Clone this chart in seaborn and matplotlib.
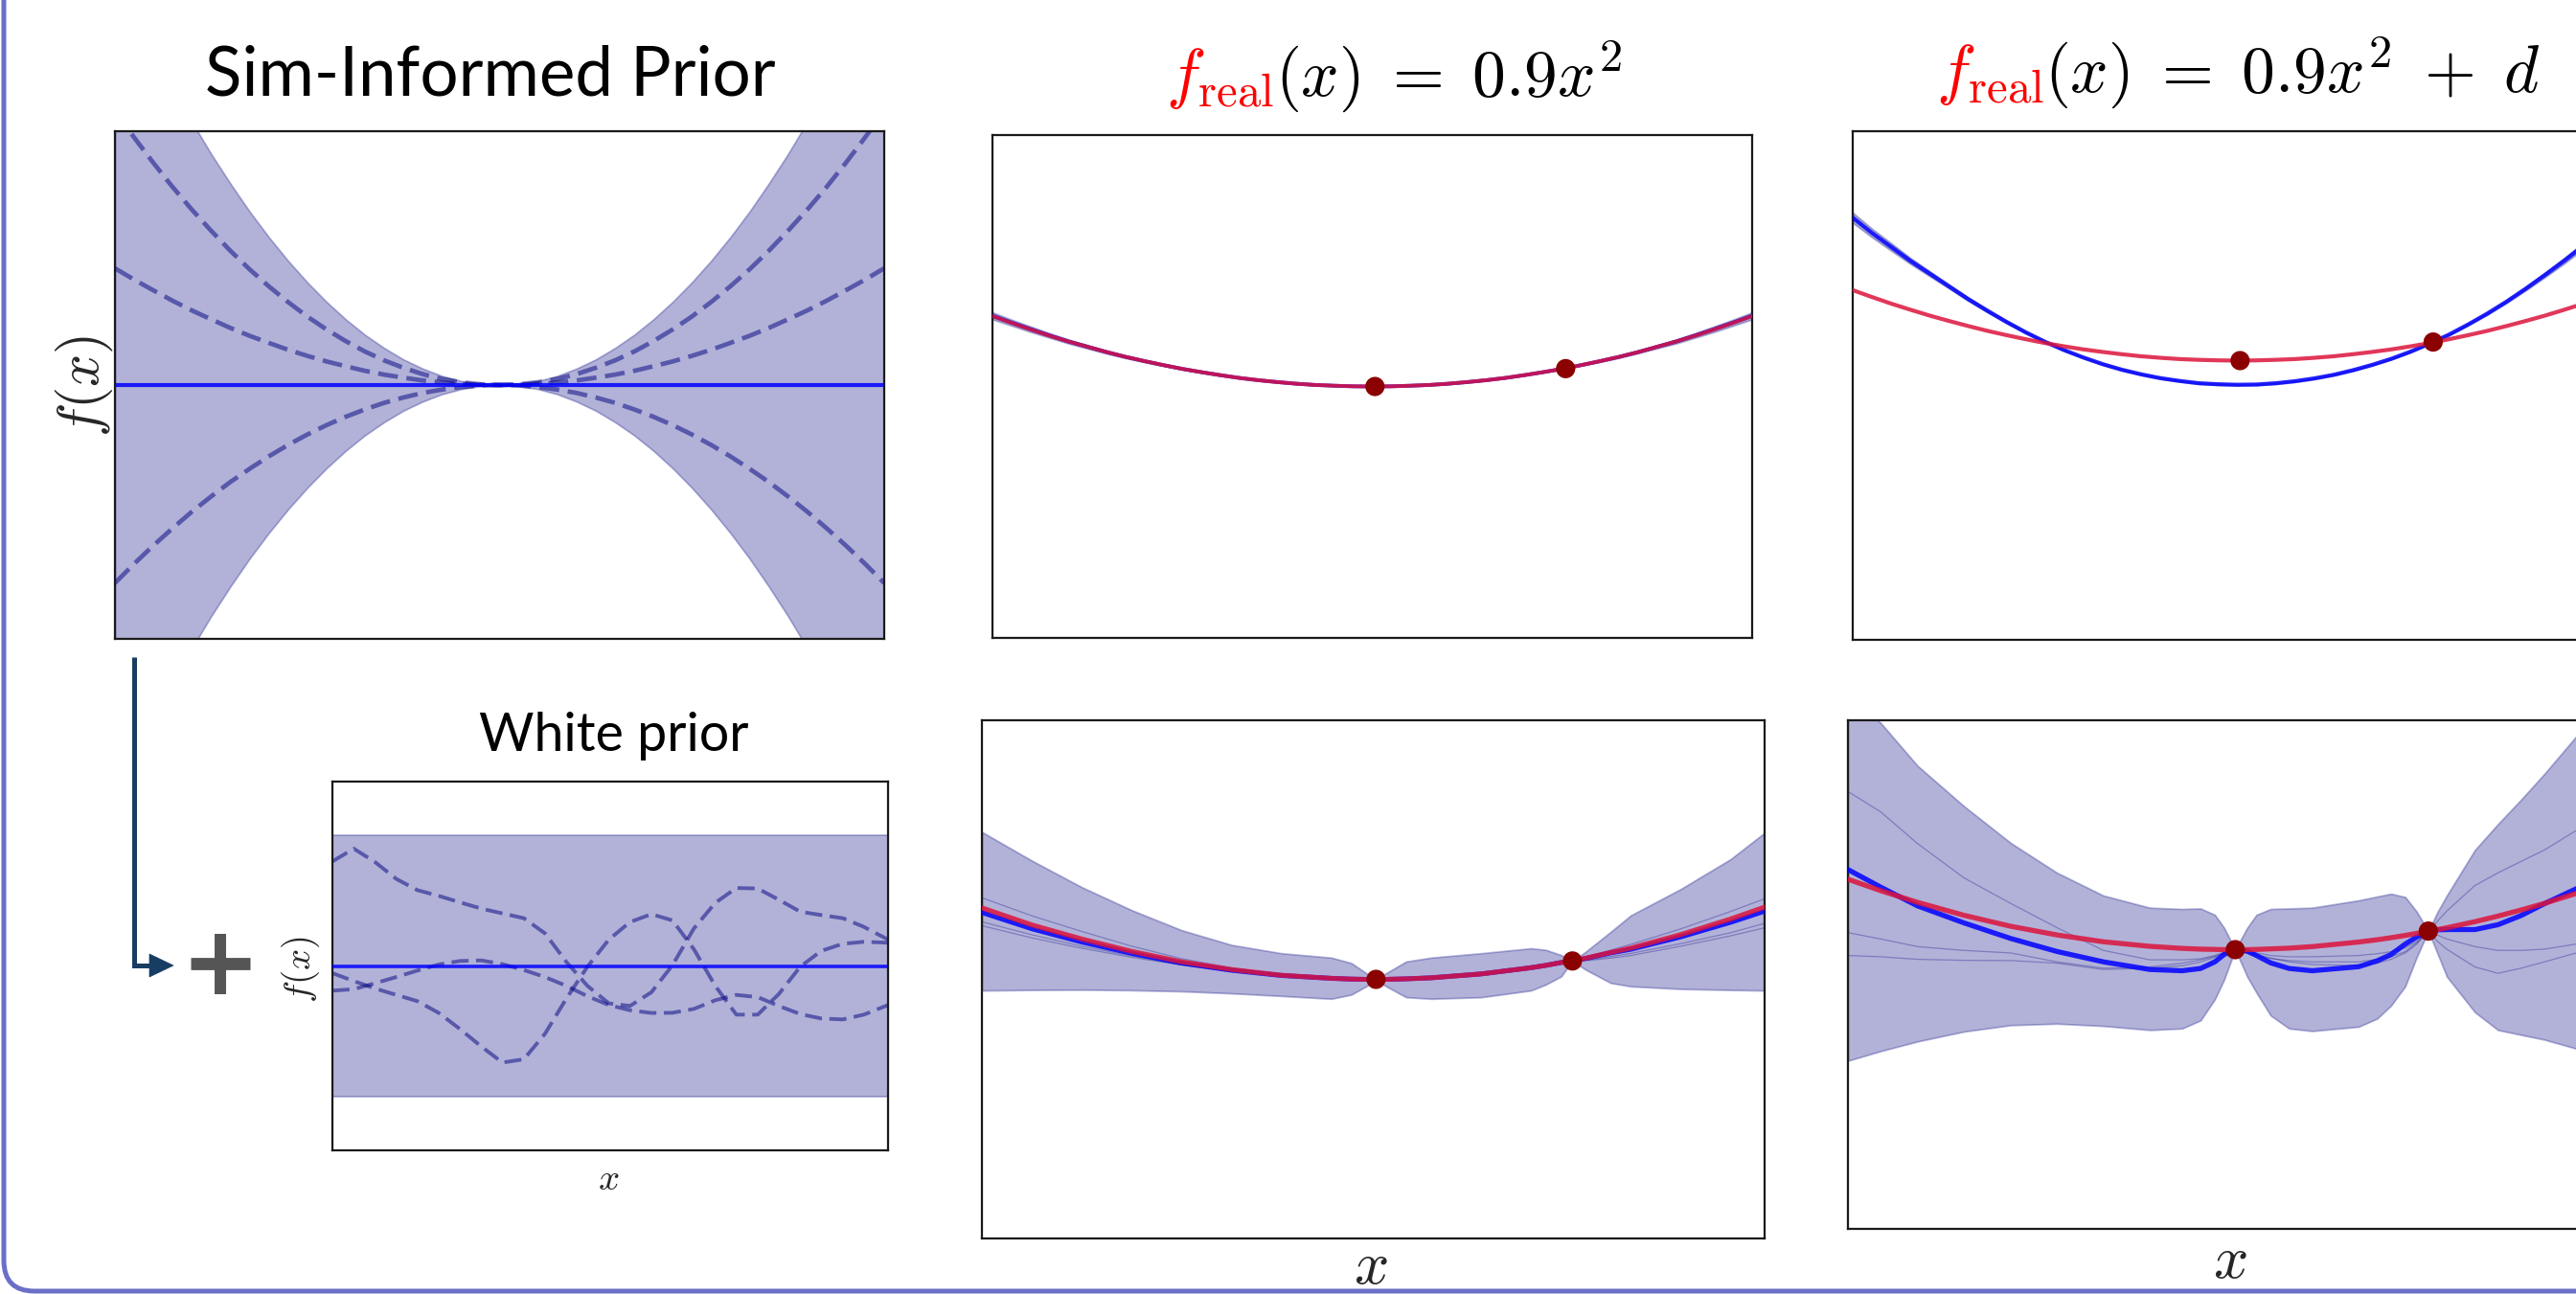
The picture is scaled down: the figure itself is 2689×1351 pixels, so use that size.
import numpy as np
import pandas as pd
import matplotlib
matplotlib.use("Agg")
import matplotlib.pyplot as plt
import seaborn as sns
from matplotlib.patches import Polygon, PathPatch, Rectangle
from matplotlib.path import Path
from matplotlib.lines import Line2D
from matplotlib.offsetbox import TextArea, HPacker, AnnotationBbox
from matplotlib.transforms import IdentityTransform

# ---------------- data (normalised panel units, x and y in [-1, 1]) ----------------
grid41 = [-1.0, -0.95, -0.9, -0.85, -0.8, -0.75, -0.7, -0.65, -0.6, -0.55, -0.5,
          -0.45, -0.4, -0.35, -0.3, -0.25, -0.2, -0.15, -0.1, -0.05, 0.0,
          0.05, 0.1, 0.15, 0.2, 0.25, 0.3, 0.35, 0.4, 0.45, 0.5,
          0.55, 0.6, 0.65, 0.7, 0.75, 0.8, 0.85, 0.9, 0.95, 1.0]

# Sim-informed prior panel
sim_x = grid41
sim_band = [1.62, 1.462, 1.312, 1.170, 1.037, 0.911, 0.794, 0.684, 0.583, 0.490, 0.405,
            0.328, 0.259, 0.198, 0.146, 0.101, 0.065, 0.036, 0.016, 0.004, 0.0,
            0.004, 0.016, 0.036, 0.065, 0.101, 0.146, 0.198, 0.259, 0.328, 0.405,
            0.490, 0.583, 0.684, 0.794, 0.911, 1.037, 1.170, 1.312, 1.462, 1.62]
sim_mean = [0.0] * 41
sim_s1 = [1.08, 0.975, 0.875, 0.780, 0.691, 0.608, 0.529, 0.456, 0.389, 0.327, 0.27,
          0.219, 0.173, 0.132, 0.097, 0.068, 0.043, 0.024, 0.011, 0.003, 0.0,
          0.003, 0.011, 0.024, 0.043, 0.068, 0.097, 0.132, 0.173, 0.219, 0.27,
          0.327, 0.389, 0.456, 0.529, 0.608, 0.691, 0.780, 0.875, 0.975, 1.08]
sim_s2 = [0.46, 0.415, 0.373, 0.332, 0.294, 0.259, 0.225, 0.194, 0.166, 0.139, 0.115,
          0.093, 0.074, 0.056, 0.041, 0.029, 0.018, 0.010, 0.005, 0.001, 0.0,
          0.001, 0.005, 0.010, 0.018, 0.029, 0.041, 0.056, 0.074, 0.093, 0.115,
          0.139, 0.166, 0.194, 0.225, 0.259, 0.294, 0.332, 0.373, 0.415, 0.46]
sim_s3 = [-0.78, -0.704, -0.632, -0.564, -0.499, -0.439, -0.382, -0.330, -0.281, -0.236, -0.195,
          -0.158, -0.125, -0.096, -0.070, -0.049, -0.031, -0.018, -0.008, -0.002, 0.0,
          -0.002, -0.008, -0.018, -0.031, -0.049, -0.070, -0.096, -0.125, -0.158, -0.195,
          -0.236, -0.281, -0.330, -0.382, -0.439, -0.499, -0.564, -0.632, -0.704, -0.78]

# White prior panel
white_x = [-1.0, -0.923, -0.847, -0.770, -0.694, -0.617, -0.541, -0.464, -0.388,
           -0.311, -0.235, -0.158, -0.082, -0.005, 0.071, 0.148, 0.224, 0.301,
           0.378, 0.454, 0.531, 0.607, 0.684, 0.760, 0.837, 0.913, 1.0]
white_band = 0.71
white_mean = [0.0] * 27
white_s1 = [0.567, 0.636, 0.564, 0.472, 0.411, 0.380, 0.345, 0.311, 0.285, 0.259,
            0.177, 0.022, -0.108, -0.203, -0.217, -0.143, 0.004, 0.203, 0.342,
            0.423, 0.420, 0.359, 0.294, 0.276, 0.259, 0.212, 0.143]
white_s2 = [-0.134, -0.126, -0.094, -0.060, -0.025, 0.008, 0.027, 0.030, 0.010,
            -0.022, -0.060, -0.108, -0.164, -0.212, -0.240, -0.255, -0.254, -0.233,
            -0.186, -0.157, -0.169, -0.217, -0.261, -0.285, -0.290, -0.264, -0.212]
white_s3 = [-0.039, -0.082, -0.122, -0.157, -0.191, -0.255, -0.342, -0.437, -0.524,
            -0.506, -0.368, -0.177, -0.004, 0.143, 0.238, 0.281, 0.247, 0.091,
            -0.108, -0.264, -0.264, -0.152, -0.004, 0.082, 0.120, 0.131, 0.126]

# observations
obs_x = [0.007, 0.509]
obs_y_a = [0.0, 0.071]      # f_real = 0.9 x^2
obs_y_b = [0.098, 0.171]    # f_real = 0.9 x^2 + d

# top row: sim-informed posterior
top_x = grid41
real_a_top = [0.28, 0.253, 0.227, 0.202, 0.179, 0.158, 0.137, 0.118, 0.101, 0.085, 0.07,
              0.057, 0.045, 0.034, 0.025, 0.0175, 0.011, 0.006, 0.003, 0.0007, 0.0,
              0.0007, 0.003, 0.006, 0.011, 0.0175, 0.025, 0.034, 0.045, 0.057, 0.07,
              0.085, 0.101, 0.118, 0.137, 0.158, 0.179, 0.202, 0.227, 0.253, 0.28]
post_a_top = [0.281, 0.254, 0.228, 0.203, 0.179, 0.158, 0.137, 0.118, 0.101, 0.085, 0.07,
              0.057, 0.045, 0.034, 0.025, 0.0175, 0.011, 0.006, 0.003, 0.0007, 0.0,
              0.0007, 0.003, 0.006, 0.011, 0.0175, 0.025, 0.034, 0.045, 0.057, 0.07,
              0.085, 0.101, 0.118, 0.137, 0.158, 0.179, 0.203, 0.228, 0.254, 0.281]
hw_a_top = [0.014, 0.012, 0.011, 0.009, 0.008, 0.007, 0.006, 0.005, 0.004, 0.003, 0.003,
            0.002, 0.002, 0.001, 0.001, 0.001, 0.001, 0.0, 0.0, 0.0, 0.0,
            0.0, 0.0, 0.0, 0.0, 0.0, 0.001, 0.001, 0.001, 0.001, 0.001,
            0.002, 0.003, 0.004, 0.005, 0.006, 0.008, 0.009, 0.011, 0.012, 0.014]
real_b_top = [0.375, 0.348, 0.322, 0.298, 0.275, 0.254, 0.234, 0.215, 0.198, 0.182, 0.167,
              0.154, 0.142, 0.132, 0.123, 0.115, 0.109, 0.104, 0.101, 0.099, 0.098,
              0.099, 0.101, 0.104, 0.109, 0.115, 0.123, 0.132, 0.142, 0.154, 0.167,
              0.182, 0.198, 0.215, 0.234, 0.254, 0.275, 0.298, 0.322, 0.348, 0.375]
post_b_top = [0.66, 0.60, 0.545, 0.49, 0.44, 0.39, 0.34, 0.294, 0.25, 0.209, 0.172,
              0.139, 0.11, 0.084, 0.062, 0.044, 0.029, 0.018, 0.009, 0.005, 0.003,
              0.004, 0.009, 0.017, 0.028, 0.042, 0.06, 0.081, 0.105, 0.133, 0.165,
              0.2, 0.24, 0.283, 0.33, 0.381, 0.435, 0.491, 0.55, 0.611, 0.675]
hw_b_top = [0.02, 0.017, 0.015, 0.012, 0.01, 0.008, 0.007, 0.006, 0.005, 0.004, 0.003,
            0.003, 0.003, 0.003, 0.003, 0.003, 0.003, 0.003, 0.003, 0.003, 0.003,
            0.003, 0.003, 0.003, 0.003, 0.003, 0.003, 0.003, 0.003, 0.003, 0.003,
            0.003, 0.004, 0.005, 0.006, 0.007, 0.009, 0.011, 0.013, 0.015, 0.018]

# bottom row: sim prior + white prior posterior, case a
gp_a_x = [-1.0, -0.872, -0.745, -0.617, -0.49, -0.362, -0.235, -0.107, -0.056, -0.018,
          0.007, 0.033, 0.084, 0.148, 0.276, 0.403, 0.441, 0.48, 0.509, 0.543, 0.607,
          0.658, 0.786, 0.913, 1.0]
gp_a_upper = [0.569, 0.458, 0.356, 0.267, 0.190, 0.133, 0.101, 0.084, 0.063, 0.024,
              0.0, 0.024, 0.069, 0.084, 0.101, 0.120, 0.114, 0.094, 0.071, 0.107,
              0.184, 0.247, 0.349, 0.464, 0.566]
gp_a_lower = [-0.043, -0.041, -0.040, -0.042, -0.046, -0.054, -0.064, -0.075, -0.059,
              -0.027, 0.0, -0.027, -0.069, -0.075, -0.069, -0.043, -0.020, 0.011, 0.071,
              0.037, -0.014, -0.027, -0.037, -0.041, -0.043]
gp_a_mean = [0.258, 0.195, 0.144, 0.100, 0.063, 0.035, 0.015, 0.004, 0.001, 0.0, 0.0,
             0.0, 0.002, 0.006, 0.021, 0.045, 0.054, 0.065, 0.071, 0.081, 0.102, 0.116,
             0.164, 0.220, 0.263]
gp_a_real = [0.276, 0.21, 0.156, 0.108, 0.068, 0.038, 0.016, 0.004, 0.001, 0.0, 0.0,
             0.0, 0.002, 0.006, 0.021, 0.045, 0.054, 0.065, 0.071, 0.082, 0.104, 0.121,
             0.173, 0.233, 0.279]
gp_a_s1 = [0.315, 0.245, 0.185, 0.128, 0.08, 0.044, 0.018, 0.005, 0.002, 0.0, 0.0,
           0.002, 0.004, 0.008, 0.024, 0.047, 0.056, 0.066, 0.071, 0.086, 0.113, 0.135,
           0.195, 0.262, 0.311]
gp_a_s2 = [0.222, 0.172, 0.128, 0.09, 0.057, 0.032, 0.013, 0.003, 0.0, -0.001, 0.0,
           -0.002, 0.0, 0.004, 0.018, 0.042, 0.052, 0.063, 0.071, 0.074, 0.088, 0.1,
           0.138, 0.18, 0.216]
gp_a_s3 = [0.207, 0.16, 0.12, 0.085, 0.055, 0.03, 0.012, 0.002, 0.0, -0.001, 0.0,
           -0.003, -0.002, 0.002, 0.016, 0.04, 0.05, 0.062, 0.071, 0.072, 0.082, 0.092,
           0.128, 0.168, 0.199]

# bottom row, case b
gp_b_x = [-1.0, -0.915, -0.819, -0.698, -0.577, -0.457, -0.336, -0.215, -0.131, -0.083,
          -0.046, -0.022, 0.007, 0.038, 0.062, 0.099, 0.147, 0.207, 0.328, 0.376,
          0.412, 0.449, 0.479, 0.509, 0.533, 0.557, 0.63, 0.69, 0.75, 0.811, 0.893, 1.0]
gp_b_upper = [1.1, 0.99, 0.821, 0.662, 0.518, 0.401, 0.311, 0.263, 0.258, 0.260,
              0.235, 0.184, 0.098, 0.184, 0.235, 0.258, 0.260, 0.263, 0.292, 0.307,
              0.318, 0.305, 0.247, 0.171, 0.247, 0.311, 0.490, 0.592, 0.688, 0.790, 0.936, 1.1]
gp_b_lower = [-0.339, -0.301, -0.263, -0.224, -0.199, -0.193, -0.202, -0.218, -0.212, -0.180,
              -0.097, -0.020, 0.098, -0.008, -0.071, -0.161, -0.212, -0.222, -0.205, -0.173,
              -0.122, -0.046, 0.069, 0.171, 0.082, -0.008, -0.148, -0.218, -0.237, -0.256,
              -0.291, -0.34]
gp_b_mean = [0.413, 0.344, 0.270, 0.203, 0.142, 0.091, 0.050, 0.020, 0.015, 0.024,
             0.050, 0.079, 0.098, 0.092, 0.075, 0.046, 0.024, 0.015, 0.031, 0.054,
             0.079, 0.120, 0.148, 0.171, 0.176, 0.177, 0.177, 0.196, 0.232, 0.279, 0.337, 0.42]
gp_b_real = [0.375, 0.330, 0.284, 0.233, 0.190, 0.156, 0.129, 0.111, 0.103, 0.100,
             0.099, 0.098, 0.098, 0.098, 0.099, 0.101, 0.104, 0.110, 0.128, 0.137,
             0.145, 0.154, 0.162, 0.170, 0.177, 0.184, 0.208, 0.230, 0.254, 0.280, 0.319, 0.375]
gp_b_s1 = [0.72, 0.64, 0.515, 0.38, 0.28, 0.185, 0.095, 0.058, 0.058, 0.062,
           0.075, 0.088, 0.098, 0.092, 0.085, 0.075, 0.07, 0.07, 0.075, 0.082,
           0.09, 0.105, 0.13, 0.171, 0.21, 0.25, 0.35, 0.40, 0.445, 0.49, 0.566, 0.66]
gp_b_s2 = [0.165, 0.14, 0.11, 0.095, 0.085, 0.05, 0.025, 0.03, 0.045, 0.058,
           0.072, 0.085, 0.098, 0.085, 0.075, 0.063, 0.055, 0.05, 0.05, 0.06,
           0.07, 0.09, 0.125, 0.171, 0.155, 0.14, 0.11, 0.095, 0.095, 0.10, 0.12, 0.13]
gp_b_s3 = [0.075, 0.07, 0.06, 0.056, 0.055, 0.045, 0.02, 0.025, 0.035, 0.05,
           0.068, 0.083, 0.098, 0.088, 0.078, 0.065, 0.05, 0.04, 0.035, 0.045,
           0.06, 0.085, 0.12, 0.171, 0.13, 0.1, 0.03, 0.005, 0.025, 0.05, 0.085, 0.1]

# ---------------- style ----------------
sns.set_theme(style="white")
plt.rcParams["font.family"] = ["Lato", "DejaVu Sans"]
plt.rcParams["mathtext.fontset"] = "cm"

W, H = 2689, 1351
fig = plt.figure(figsize=(W / 100, H / 100), dpi=100)
fig.patch.set_facecolor("white")
fig.patch.set_linewidth(0)

NAVY = (0.0, 0.0, 0.5)
BAND_FACE = (0.0, 0.0, 0.5, 0.30)
BAND_EDGE = (0.0, 0.0, 0.5, 0.28)
CRIMSON = "#dc143c"


def add_axes_px(x0, y0, x1, y1):
    ax = fig.add_axes([x0 / W, 1 - y1 / H, (x1 - x0) / W, (y1 - y0) / H])
    ax.set_xlim(-1, 1)
    ax.set_ylim(-1, 1)
    ax.set_xticks([])
    ax.set_yticks([])
    for s in ax.spines.values():
        s.set_color("#1a1a1a")
        s.set_linewidth(1.6)
    return ax


def band(ax, x, lo, hi):
    ax.fill_between(x, lo, hi, facecolor=BAND_FACE, edgecolor=BAND_EDGE, linewidth=1.3, zorder=1)


def line(ax, x, y, color, lw, alpha=1.0, ls="-", z=3):
    df = pd.DataFrame({"x": x, "y": y})
    sns.lineplot(data=df, x="x", y="y", ax=ax, color=color, linewidth=lw, alpha=alpha,
                 linestyle=ls, estimator=None, sort=False, legend=False, zorder=z)
    ax.set_xlabel("")
    ax.set_ylabel("")


def dots(ax, y):
    sns.scatterplot(x=obs_x, y=y, ax=ax, color="#8b0000", s=210, edgecolor="none",
                    zorder=6, legend=False)


# ---- Panel 1: Sim-informed prior ----
ax1 = add_axes_px(120, 137, 923, 667)
band(ax1, sim_x, [-v for v in sim_band], sim_band)
for s in (sim_s1, sim_s2, sim_s3):
    line(ax1, sim_x, s, NAVY, 3.4, alpha=0.5, ls=(0, (4.4, 1.9)), z=2)
line(ax1, sim_x, sim_mean, "blue", 3.0, alpha=0.85, z=3)

# ---- Panel 4: White prior ----
ax4 = add_axes_px(347, 816, 927, 1201)
band(ax4, white_x, [-white_band] * len(white_x), [white_band] * len(white_x))
for s in (white_s1, white_s2, white_s3):
    line(ax4, white_x, s, NAVY, 2.8, alpha=0.5, ls=(0, (4.6, 2.0)), z=2)
line(ax4, white_x, white_mean, "blue", 2.6, alpha=0.85, z=3)

# ---- Panel 2: top middle ----
ax2 = add_axes_px(1036, 141, 1829, 666)
band(ax2, top_x, [m - h for m, h in zip(post_a_top, hw_a_top)],
     [m + h for m, h in zip(post_a_top, hw_a_top)])
line(ax2, top_x, post_a_top, "blue", 2.8, alpha=0.85)
line(ax2, top_x, real_a_top, CRIMSON, 2.8, alpha=0.85, z=4)
dots(ax2, obs_y_a)

# ---- Panel 3: top right ----
ax3 = add_axes_px(1934, 137, 2737, 668)
band(ax3, top_x, [m - h for m, h in zip(post_b_top, hw_b_top)],
     [m + h for m, h in zip(post_b_top, hw_b_top)])
line(ax3, top_x, post_b_top, "blue", 3.0, alpha=0.85)
line(ax3, top_x, real_b_top, CRIMSON, 3.0, alpha=0.85, z=4)
dots(ax3, obs_y_b)

# ---- Panel 5: bottom middle ----
ax5 = add_axes_px(1025, 752, 1842, 1293)
band(ax5, gp_a_x, gp_a_lower, gp_a_upper)
for s in (gp_a_s1, gp_a_s2, gp_a_s3):
    line(ax5, gp_a_x, s, NAVY, 0.9, alpha=0.3, z=2)
line(ax5, gp_a_x, gp_a_mean, "blue", 3.6, alpha=0.85)
line(ax5, gp_a_x, gp_a_real, CRIMSON, 3.6, alpha=0.85, z=4)
dots(ax5, obs_y_a)

# ---- Panel 6: bottom right ----
ax6 = add_axes_px(1929, 752, 2732, 1283)
band(ax6, gp_b_x, gp_b_lower, gp_b_upper)
for s in (gp_b_s1, gp_b_s2, gp_b_s3):
    line(ax6, gp_b_x, s, NAVY, 0.9, alpha=0.3, z=2)
line(ax6, gp_b_x, gp_b_mean, "blue", 3.8, alpha=0.85)
line(ax6, gp_b_x, gp_b_real, CRIMSON, 3.8, alpha=0.85, z=4)
dots(ax6, obs_y_b)

# ---------------- texts ----------------
def ftext(x, y, s, **kw):
    fig.text(x / W, 1 - y / H, s, **kw)


ftext(512, 100, "Sim-Informed Prior", fontsize=51, ha="center", va="baseline", color="black")
ftext(641, 784, "White prior", fontsize=40, ha="center", va="baseline", color="black")

ftext(88, 403, r"$f(x)$", fontsize=43, rotation=90, ha="center", va="center")
ftext(314, 1012, r"$f(x)$", fontsize=28, rotation=90, ha="center", va="center")
ftext(635, 1231, r"$x$", fontsize=28, ha="center", va="center")
ftext(1431, 1340, r"$x$", fontsize=46, ha="center", va="baseline")
ftext(2328, 1334, r"$x$", fontsize=46, ha="center", va="baseline")


def math_title(parts, cx, cy, size):
    kids = [TextArea(t, textprops=dict(color=c, fontsize=size)) for t, c in parts]
    box = HPacker(children=kids, align="baseline", pad=0, sep=0)
    ab = AnnotationBbox(box, (cx / W, 1 - cy / H), xycoords="figure fraction",
                        box_alignment=(0.5, 0.5), frameon=False, pad=0)
    fig.add_artist(ab)


math_title([(r"$f_{\rm real}$", "red"), (r"$(x)\;=\;0.9x^2$", "black")], 1455, 80, 50)
math_title([(r"$f_{\rm real}$", "red"), (r"$(x)\;=\;0.9x^2\;+\;d$", "black")], 2336, 76, 50)

# ---------------- arrow, plus sign, frame ----------------
ARROW_C = "#173d63"
fig.add_artist(Line2D([140 / W, 140 / W, 160 / W], [1 - 686 / H, 1 - 1008 / H, 1 - 1008 / H],
                      transform=fig.transFigure, color=ARROW_C, lw=3.6,
                      solid_joinstyle="miter", solid_capstyle="butt"))
fig.add_artist(Polygon([[156 / W, 1 - 996 / H], [181 / W, 1 - 1008 / H], [156 / W, 1 - 1020 / H]],
                       closed=True, transform=fig.transFigure, facecolor=ARROW_C,
                       edgecolor=ARROW_C, lw=0.5))

PLUS_C = "#555555"
fig.add_artist(Line2D([199 / W, 261 / W], [1 - 1006 / H, 1 - 1006 / H], transform=fig.transFigure,
                      color=PLUS_C, lw=9.2, solid_capstyle="butt"))
fig.add_artist(Line2D([230 / W, 230 / W], [1 - 975 / H, 1 - 1038 / H], transform=fig.transFigure,
                      color=PLUS_C, lw=8.6, solid_capstyle="butt"))

# rounded frame: only the left and bottom edges fall inside the picture
r = 32
frame_path = Path([(4, H - 2), (4, 3 + r), (4, 3), (4 + r, 3), (W - 2, 3)],
                  [Path.MOVETO, Path.LINETO, Path.CURVE3, Path.CURVE3, Path.LINETO])
fig.add_artist(PathPatch(frame_path, fill=False, edgecolor="#6a6fc8", lw=3.6,
                         capstyle="projecting", transform=IdentityTransform()))

# keep the very top rows clean (the frame's top edge is outside the picture)
fig.add_artist(Rectangle((12, H - 4), W, 6, facecolor="white", edgecolor="none",
                         transform=IdentityTransform(), zorder=50))

fig.savefig("out.png", dpi=100, facecolor="white")
